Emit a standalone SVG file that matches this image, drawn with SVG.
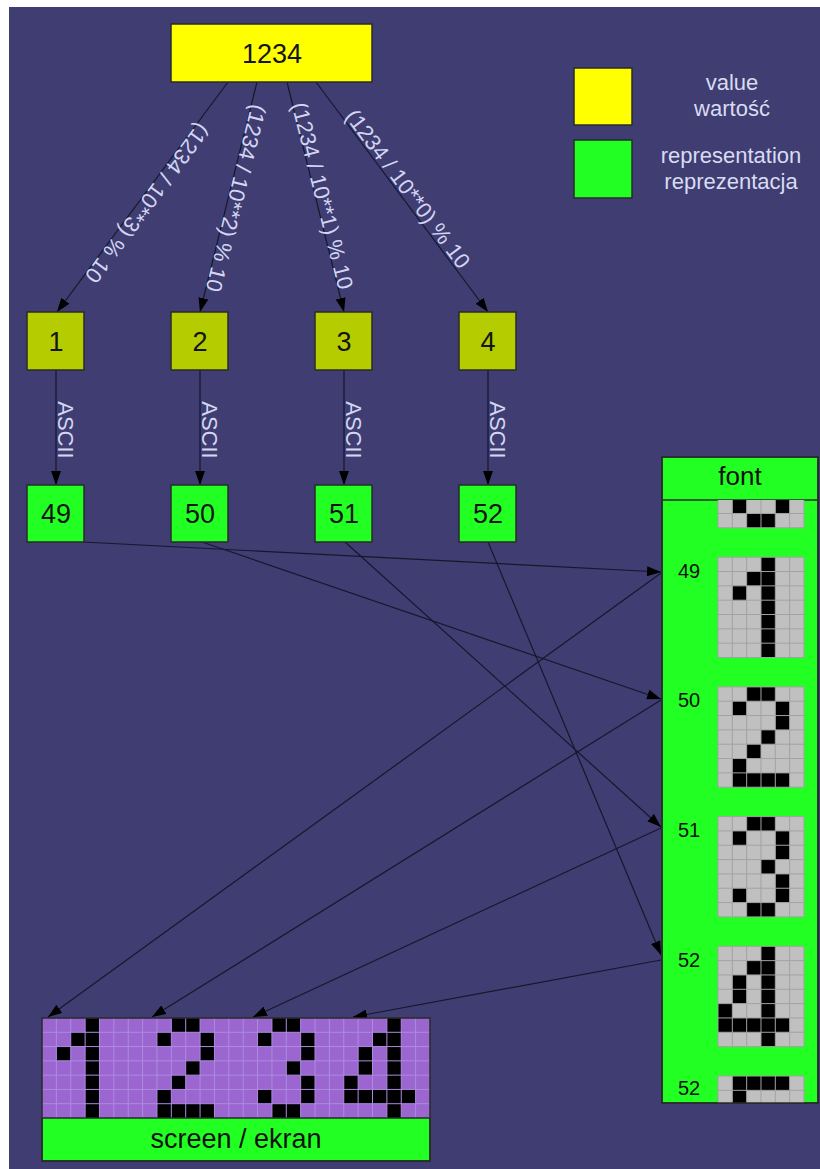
<svg xmlns="http://www.w3.org/2000/svg" width="820" height="1169" viewBox="0 0 820 1169">
<style>
text{font-family:"Liberation Sans",Arial,sans-serif}
.box{stroke:#2b2b2b;stroke-width:1.5}
.val{fill:#ffff00}
.dig{fill:#b4cc00}
.rep{fill:#22ff22}
.num{font-size:27px;fill:#151515;text-anchor:middle}
.lbl{font-size:22px;fill:#d2d6f2;text-anchor:middle}
.leg{font-size:22px;fill:#d8dcf2;text-anchor:middle}
.edge{fill:none;stroke:#17172c;stroke-width:1.2}
.px{fill:#000}
.fgbg{fill:#c0c0c0}
.fg{fill:none;stroke:#a2a2a2;stroke-width:1}
.sg{fill:none;stroke:#ad8be2;stroke-width:1}
.code{font-size:20px;fill:#111}
</style>
<defs>
<marker id="arr" viewBox="0 0 14 10" refX="14" refY="5" markerWidth="14" markerHeight="10" markerUnits="userSpaceOnUse" orient="auto"><path d="M0 0L14 5L0 10z" fill="#000"/></marker>
<path id="grid" class="fg" vector-effect="non-scaling-stroke" d="M0 0H6V7H0ZM1 0V7M2 0V7M3 0V7M4 0V7M5 0V7M0 1H6M0 2H6M0 3H6M0 4H6M0 5H6M0 6H6"/>
<path id="d0" class="px" d="M1 5h1v1h-1zM4 5h1v1h-1zM2 6h2v1h-2z"/>
<path id="d1" class="px" d="M3 0h1v7h-1zM2 1h1v1h-1zM1 2h1v1h-1z"/>
<path id="d2" class="px" d="M2 0h2v1h-2zM1 1h1v1h-1zM4 1h1v2h-1zM3 3h1v1h-1zM2 4h1v1h-1zM1 5h1v2h-1zM2 6h3v1h-3z"/>
<path id="d3" class="px" d="M2 0h2v1h-2zM1 1h1v1h-1zM4 1h1v2h-1zM3 3h1v1h-1zM4 4h1v2h-1zM1 5h1v1h-1zM2 6h2v1h-2z"/>
<path id="d4" class="px" d="M3 0h1v7h-1zM2 1h1v1h-1zM1 2h1v2h-1zM0 4h1v2h-1zM1 5h2v1h-2zM4 5h1v1h-1z"/>
<path id="d5" class="px" d="M1 0h4v1h-4zM1 1h1v1h-1z"/>
<clipPath id="fontBody"><rect x="662" y="500" width="156" height="603"/></clipPath>
</defs>

<rect x="0" y="0" width="820" height="1169" fill="#ffffff"/>
<rect x="9" y="7" width="811" height="1162" fill="#3f3d71"/>

<g id="connectors">
  <path class="edge" marker-end="url(#arr)" d="M228 82L57 312"/>
  <path class="edge" marker-end="url(#arr)" d="M257 82L200 312"/>
  <path class="edge" marker-end="url(#arr)" d="M287 82L344 312"/>
  <path class="edge" marker-end="url(#arr)" d="M316 82L488 312"/>
  <path class="edge" marker-end="url(#arr)" d="M56 370L56 485"/>
  <path class="edge" marker-end="url(#arr)" d="M200 370L200 485"/>
  <path class="edge" marker-end="url(#arr)" d="M344 370L344 485"/>
  <path class="edge" marker-end="url(#arr)" d="M488 370L488 485"/>
  <path class="edge" marker-end="url(#arr)" d="M83 542L661 572"/>
  <path class="edge" marker-end="url(#arr)" d="M202 542L661 699"/>
  <path class="edge" marker-end="url(#arr)" d="M345 542L661 827"/>
  <path class="edge" marker-end="url(#arr)" d="M488 542L661 955"/>
  <path class="edge" marker-end="url(#arr)" d="M661 573L48 1017"/>
  <path class="edge" marker-end="url(#arr)" d="M661 700L152 1017"/>
  <path class="edge" marker-end="url(#arr)" d="M661 828L253 1017"/>
  <path class="edge" marker-end="url(#arr)" d="M661 960L353 1017"/>
  <text class="lbl" transform="translate(141.2,198.7) rotate(126.6)">(1234 / 10**3) % 10</text>
  <text class="lbl" transform="translate(228.7,196.4) rotate(103.9)">(1234 / 10**2) % 10</text>
  <text class="lbl" transform="translate(315.1,197.5) rotate(75.8)">(1234 / 10**1) % 10</text>
  <text class="lbl" transform="translate(401.8,193.5) rotate(53.2)">(1234 / 10**0) % 10</text>
  <text class="lbl" transform="translate(58,430) rotate(90)">ASCII</text>
  <text class="lbl" transform="translate(202,430) rotate(90)">ASCII</text>
  <text class="lbl" transform="translate(346,430) rotate(90)">ASCII</text>
  <text class="lbl" transform="translate(490,430) rotate(90)">ASCII</text>
</g>

<g id="value">
  <rect class="box val" x="171" y="24" width="201" height="58"/>
  <text class="num" x="272" y="63">1234</text>
</g>

<g id="legend">
  <rect class="box val" x="574" y="68" width="58" height="57"/>
  <rect class="box rep" x="574" y="140" width="58" height="58"/>
  <text class="leg" x="732" y="90">value</text>
  <text class="leg" x="732" y="116">wartość</text>
  <text class="leg" x="731" y="163">representation</text>
  <text class="leg" x="731" y="189">reprezentacja</text>
</g>

<g id="digit1"><rect class="box dig" x="27" y="312" width="57" height="58"/><text class="num" x="56" y="351">1</text></g>
<g id="digit2"><rect class="box dig" x="171" y="312" width="57" height="58"/><text class="num" x="200" y="351">2</text></g>
<g id="digit3"><rect class="box dig" x="315" y="312" width="57" height="58"/><text class="num" x="344" y="351">3</text></g>
<g id="digit4"><rect class="box dig" x="459" y="312" width="57" height="58"/><text class="num" x="488" y="351">4</text></g>

<g id="ascii49"><rect class="box rep" x="27" y="485" width="57" height="57"/><text class="num" x="56" y="523">49</text></g>
<g id="ascii50"><rect class="box rep" x="171" y="485" width="57" height="57"/><text class="num" x="200" y="523">50</text></g>
<g id="ascii51"><rect class="box rep" x="315" y="485" width="57" height="57"/><text class="num" x="344" y="523">51</text></g>
<g id="ascii52"><rect class="box rep" x="459" y="485" width="57" height="57"/><text class="num" x="488" y="523">52</text></g>

<g id="font">
  <rect class="box rep" x="662" y="457" width="156" height="646"/>
  <line x1="662" y1="500" x2="818" y2="500" stroke="#2b2b2b" stroke-width="1.5"/>
  <text x="740" y="485" style="font-size:26px;fill:#111;text-anchor:middle">font</text>
  <g clip-path="url(#fontBody)">
    <g transform="translate(718,427.5) scale(14.33)"><rect class="fgbg" width="6" height="7"/><use href="#d0"/><use href="#grid"/></g>
    <g transform="translate(718,557.2) scale(14.33)"><rect class="fgbg" width="6" height="7"/><use href="#d1"/><use href="#grid"/></g>
    <g transform="translate(718,686.9) scale(14.33)"><rect class="fgbg" width="6" height="7"/><use href="#d2"/><use href="#grid"/></g>
    <g transform="translate(718,816.6) scale(14.33)"><rect class="fgbg" width="6" height="7"/><use href="#d3"/><use href="#grid"/></g>
    <g transform="translate(718,946.3) scale(14.33)"><rect class="fgbg" width="6" height="7"/><use href="#d4"/><use href="#grid"/></g>
    <g transform="translate(718,1076) scale(14.33)"><rect class="fgbg" width="6" height="7"/><use href="#d5"/><use href="#grid"/></g>
  </g>
  <text class="code" x="678" y="578">49</text>
  <text class="code" x="678" y="707">50</text>
  <text class="code" x="678" y="837">51</text>
  <text class="code" x="678" y="967">52</text>
  <text class="code" x="678" y="1095">52</text>
  <rect x="662" y="457" width="156" height="646" fill="none" stroke="#2b2b2b" stroke-width="1.5"/>
</g>

<g id="screen">
  <g transform="translate(42,1018) scale(14.37,14.286)">
    <rect width="27" height="7" fill="#9b66cf"/>
    <use href="#d1"/>
    <use href="#d2" transform="translate(7,0)"/>
    <use href="#d3" transform="translate(14,0)"/>
    <use href="#d4" transform="translate(21,0)"/>
    <path class="sg" vector-effect="non-scaling-stroke" d="M1 0V7M2 0V7M3 0V7M4 0V7M5 0V7M6 0V7M7 0V7M8 0V7M9 0V7M10 0V7M11 0V7M12 0V7M13 0V7M14 0V7M15 0V7M16 0V7M17 0V7M18 0V7M19 0V7M20 0V7M21 0V7M22 0V7M23 0V7M24 0V7M25 0V7M26 0V7M0 1H27M0 2H27M0 3H27M0 4H27M0 5H27M0 6H27"/>
  </g>
  <rect class="box rep" x="42" y="1118" width="388" height="43"/>
  <rect x="42" y="1018" width="388" height="143" fill="none" stroke="#2b2b2b" stroke-width="1.5"/>
  <text x="236" y="1148" style="font-size:27px;fill:#111;text-anchor:middle">screen / ekran</text>
</g>
</svg>
